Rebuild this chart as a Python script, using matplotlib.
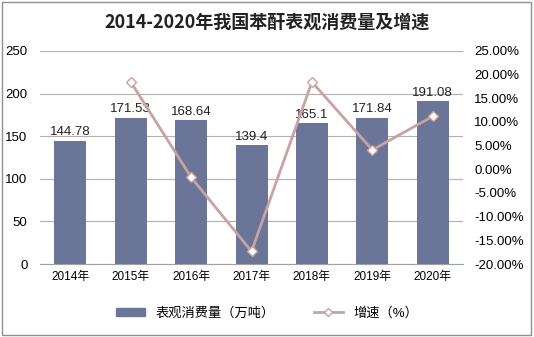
import matplotlib.pyplot as plt
import numpy as np
from matplotlib.patches import Rectangle

plt.rcParams['font.family'] = ['Liberation Sans', 'Noto Sans CJK SC', 'DejaVu Sans']

years = ['2014年', '2015年', '2016年', '2017年', '2018年', '2019年', '2020年']
consumption = [144.78, 171.53, 168.64, 139.4, 165.1, 171.84, 191.08]
growth_years = ['2015年', '2016年', '2017年', '2018年', '2019年', '2020年']
growth = [18.48, -1.68, -17.34, 18.44, 4.08, 11.20]

bar_color = '#6b7597'
line_color = '#c9a2a2'

fig = plt.figure(figsize=(5.34, 3.37), dpi=100)
ax = fig.add_axes([0.075, 0.2166, 0.792, 0.6324])

x = np.arange(len(years))
ax.bar(x, consumption, width=0.53, color=bar_color, zorder=2)
for xi, v in zip(x, consumption):
    ax.text(xi, v + 3, f'{v:g}', ha='center', va='bottom', fontsize=9.5, color='#222222')

ax.set_xlim(-0.5, len(years) - 0.5)
ax.set_ylim(0, 250)
ax.set_yticks(np.arange(0, 251, 50))
ax.set_xticks(x)
ax.set_xticklabels(years, fontsize=8.5)
ax.tick_params(axis='y', labelsize=9.5, length=0, pad=9)
ax.tick_params(axis='x', length=0, pad=5)
ax.yaxis.grid(True, color='#b0b0b0', linewidth=0.8, zorder=0)
for s in ['left', 'right', 'top']:
    ax.spines[s].set_visible(False)
ax.spines['bottom'].set_color('#a0a0a0')

ax2 = ax.twinx()
gx = [years.index(g) for g in growth_years]
ax2.plot(gx, growth, color=line_color, linewidth=2, marker='D', markersize=5,
         markerfacecolor='white', markeredgecolor=line_color, zorder=3)
ax2.set_ylim(-20, 25)
ax2.set_yticks(np.arange(-20, 26, 5))
ax2.set_yticklabels([f'{t:.2f}%' for t in np.arange(-20, 26, 5)])
ax2.tick_params(axis='y', labelsize=9.5, length=0, pad=8)
for s in ['left', 'right', 'top', 'bottom']:
    ax2.spines[s].set_visible(False)

fig.text(0.5, 0.935, '2014-2020年我国苯酐表观消费量及增速', ha='center', va='center',
         fontsize=13, fontweight='bold', color='#222222',
         family=['Noto Sans CJK SC', 'DejaVu Sans'])

h1 = plt.Rectangle((0, 0), 1, 1, color=bar_color)
h2, = plt.plot([], [], color=line_color, linewidth=2, marker='D', markersize=4,
               markerfacecolor='white', markeredgecolor=line_color)
fig.legend([h1, h2], ['表观消费量（万吨）', '增速（%）'], loc='center',
           bbox_to_anchor=(0.5, 0.07), ncol=2, frameon=False, fontsize=9.5,
           handlelength=2.2, columnspacing=3, handleheight=0.5)

fig.patches.append(Rectangle((0.004, 0.006), 0.99, 0.988, transform=fig.transFigure,
                             fill=False, edgecolor='#909090', linewidth=1))

fig.savefig('out.png', dpi=100)
